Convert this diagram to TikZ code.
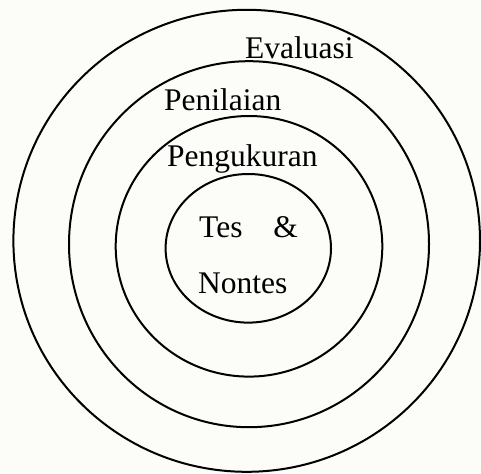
\documentclass[tikz,border=0pt]{standalone}
\usepackage{fontspec}
\setmainfont{Liberation Serif}
\definecolor{bgcol}{HTML}{FCFCF8}
\begin{document}
\begin{tikzpicture}[x=1pt,y=-1pt,
  ring/.style={draw=black,line width=2pt},
  lbl/.style={anchor=base west,inner sep=0pt,font=\fontsize{31.5}{37}\selectfont}]
\fill[bgcol] (0,0) rectangle (481,473);
\useasboundingbox (0,0) rectangle (481,473);
\draw[ring] (246.7,240.8) ellipse [x radius=233.3,y radius=231];
\draw[ring] (249,244.2) ellipse [x radius=180,y radius=183];
\draw[ring] (249,246.3) ellipse [x radius=133.3,y radius=130.3];
\draw[ring] (248.3,248.3) ellipse [x radius=82.7,y radius=74.3];
\node[lbl] (eval) at (245,59) {Evaluasi};
\node[lbl] (nilai) at (164,111) {Penilaian};
\node[lbl] (ukur) at (167,166) {Pengukuran};
\node[lbl] (tes) at (199,237) {Tes};
\node[lbl,anchor=base east] (amp) at (298,237) {\&};
\node[lbl] (nontes) at (198,293) {Nontes};
\end{tikzpicture}
\end{document}
